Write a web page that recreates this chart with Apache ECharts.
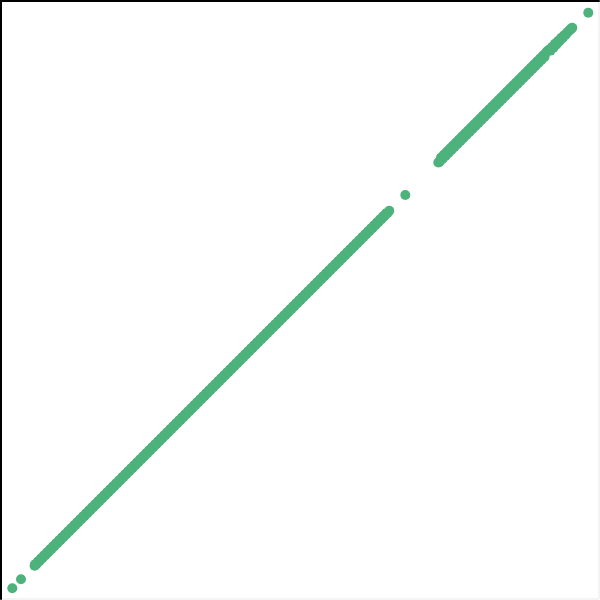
<!DOCTYPE html>
<html>
<head>
<meta charset="utf-8">
<script src="https://cdn.jsdelivr.net/npm/echarts@6/dist/echarts.min.js"></script>
<style>html,body{margin:0;padding:0;background:#fff}#c{width:600px;height:600px}</style>
</head>
<body>
<div id="c"></div>
<script>
// Values (x, y)
var lowOutliers = [[12.3, 11.7], [21, 20.7]];
var lowerSegment = [
[34.6,34.2],
[35,35.6],[36.5,35.9],[38,38.6],[39.5,38.9],[41,41.6],[42.5,41.9],[44,44.6],[45.5,44.9],
[47,47.6],[48.5,47.9],[50,50.6],[51.5,50.9],[53,53.6],[54.5,53.9],[56,56.6],[57.5,56.9],
[59,59.6],[60.5,59.9],[62,62.6],[63.5,62.9],[65,65.6],[66.5,65.9],[68,68.6],[69.5,68.9],
[71,71.6],[72.5,71.9],[74,74.6],[75.5,74.9],[77,77.6],[78.5,77.9],[80,80.6],[81.5,80.9],
[83,83.6],[84.5,83.9],[86,86.6],[87.5,86.9],[89,89.6],[90.5,89.9],[92,92.6],[93.5,92.9],
[95,95.6],[96.5,95.9],[98,98.6],[99.5,98.9],[101,101.6],[102.5,101.9],[104,104.6],[105.5,104.9],
[107,107.6],[108.5,107.9],[110,110.6],[111.5,110.9],[113,113.6],[114.5,113.9],[116,116.6],[117.5,116.9],
[119,119.6],[120.5,119.9],[122,122.6],[123.5,122.9],[125,125.6],[126.5,125.9],[128,128.6],[129.5,128.9],
[131,131.6],[132.5,131.9],[134,134.6],[135.5,134.9],[137,137.6],[138.5,137.9],[140,140.6],[141.5,140.9],
[143,143.6],[144.5,143.9],[146,146.6],[147.5,146.9],[149,149.6],[150.5,149.9],[152,152.6],[153.5,152.9],
[155,155.6],[156.5,155.9],[158,158.6],[159.5,158.9],[161,161.6],[162.5,161.9],[164,164.6],[165.5,164.9],
[167,167.6],[168.5,167.9],[170,170.6],[171.5,170.9],[173,173.6],[174.5,173.9],[176,176.6],[177.5,176.9],
[179,179.6],[180.5,179.9],[182,182.6],[183.5,182.9],[185,185.6],[186.5,185.9],[188,188.6],[189.5,188.9],
[191,191.6],[192.5,191.9],[194,194.6],[195.5,194.9],[197,197.6],[198.5,197.9],[200,200.6],[201.5,200.9],
[203,203.6],[204.5,203.9],[206,206.6],[207.5,206.9],[209,209.6],[210.5,209.9],[212,212.6],[213.5,212.9],
[215,215.6],[216.5,215.9],[218,218.6],[219.5,218.9],[221,221.6],[222.5,221.9],[224,224.6],[225.5,224.9],
[227,227.6],[228.5,227.9],[230,230.6],[231.5,230.9],[233,233.6],[234.5,233.9],[236,236.6],[237.5,236.9],
[239,239.6],[240.5,239.9],[242,242.6],[243.5,242.9],[245,245.6],[246.5,245.9],[248,248.6],[249.5,248.9],
[251,251.6],[252.5,251.9],[254,254.6],[255.5,254.9],[257,257.6],[258.5,257.9],[260,260.6],[261.5,260.9],
[263,263.6],[264.5,263.9],[266,266.6],[267.5,266.9],[269,269.6],[270.5,269.9],[272,272.6],[273.5,272.9],
[275,275.6],[276.5,275.9],[278,278.6],[279.5,278.9],[281,281.6],[282.5,281.9],[284,284.6],[285.5,284.9],
[287,287.6],[288.5,287.9],[290,290.6],[291.5,290.9],[293,293.6],[294.5,293.9],[296,296.6],[297.5,296.9],
[299,299.6],[300.5,299.9],[302,302.6],[303.5,302.9],[305,305.6],[306.5,305.9],[308,308.6],[309.5,308.9],
[311,311.6],[312.5,311.9],[314,314.6],[315.5,314.9],[317,317.6],[318.5,317.9],[320,320.6],[321.5,320.9],
[323,323.6],[324.5,323.9],[326,326.6],[327.5,326.9],[329,329.6],[330.5,329.9],[332,332.6],[333.5,332.9],
[335,335.6],[336.5,335.9],[338,338.6],[339.5,338.9],[341,341.6],[342.5,341.9],[344,344.6],[345.5,344.9],
[347,347.6],[348.5,347.9],[350,350.6],[351.5,350.9],[353,353.6],[354.5,353.9],[356,356.6],[357.5,356.9],
[359,359.6],[360.5,359.9],[362,362.6],[363.5,362.9],[365,365.6],[366.5,365.9],[368,368.6],[369.5,368.9],
[371,371.6],[372.5,371.9],[374,374.6],[375.5,374.9],[377,377.6],[378.5,377.9],[380,380.6],[381.5,380.9],
[383,383.6],[384.5,383.9],[386,386.6],[387.5,386.9],[389.3,389.3]
];
var midOutlier = [[405.3, 405]];
var upperSegment = [
[438.3,437.5],[439.5,438.1],[441,442.4],[442.5,441.1],[444,445.4],[445.5,444.1],[447,448.4],[448.5,447.1],
[450,451.4],[451.5,450.1],[453,454.4],[454.5,453.1],[456,457.4],[457.5,456.1],[459,460.4],[460.5,459.1],
[462,463.4],[463.5,462.1],[465,466.4],[466.5,465.1],[468,469.4],[469.5,468.1],[471,472.4],[472.5,471.1],
[474,475.4],[475.5,474.1],[477,478.4],[478.5,477.1],[480,481.4],[481.5,480.1],[483,484.4],[484.5,483.1],
[486,487.4],[487.5,486.1],[489,490.4],[490.5,489.1],[492,493.4],[493.5,492.1],[495,496.4],[496.5,495.1],
[498,499.4],[499.5,498.1],[501,502.4],[502.5,501.1],[504,505.4],[505.5,504.1],[507,508.4],[508.5,507.1],
[510,511.4],[511.5,510.1],[513,514.4],[514.5,513.1],[516,517.4],[517.5,516.1],[519,520.4],[520.5,519.1],
[522,523.4],[523.5,522.1],[525,526.4],[526.5,525.1],[528,529.4],[529.5,528.1],[531,532.4],[532.5,531.1],
[534,535.4],[535.5,534.1],[537,538.4],[538.5,537.1],[540,541.4],[541.5,540.1],[543,544.4],[544.5,543.1],
[546,547.4],[547.5,549.0],[549,550.2],[550.5,549.4],[552,553.0],[553.5,552.3],[555,556.2],[556.5,555.6],
[558,559.0],[559.5,558.7],[561,561.9],[562.5,561.8],[564,564.6],[565.5,565.0],[567,567.4],[568.5,568.5],
[570,570.2],[571.3,571.4],[572.3,572.3]
];
var highOutlier = [[588.3, 587.3]];

var color = '#4db27b';
function sc(d) {
  return { type: 'scatter', data: d, symbolSize: 10, itemStyle: { color: color, opacity: 1 }, animation: false, silent: true, large: false };
}
var chart = echarts.init(document.getElementById('c'), null, { renderer: 'canvas' });
chart.setOption({
  animation: false,
  backgroundColor: '#fff',
  grid: { left: 1, top: 1, right: 1, bottom: 1, show: true, borderColor: '#e8e8e8', borderWidth: 1, backgroundColor: 'transparent' },
  xAxis: {
    type: 'value', position: 'top', min: 1, max: 599,
    axisLine: { show: true, onZero: false, lineStyle: { color: '#000', width: 2 } },
    axisTick: { show: false }, axisLabel: { show: false }, splitLine: { show: false }
  },
  yAxis: {
    type: 'value', position: 'left', min: 1, max: 599,
    axisLine: { show: true, onZero: false, lineStyle: { color: '#000', width: 2 } },
    axisTick: { show: false }, axisLabel: { show: false }, splitLine: { show: false }
  },
  series: [sc(lowOutliers), sc(lowerSegment), sc(midOutlier), sc(upperSegment), sc(highOutlier)]
});
</script>
</body>
</html>
